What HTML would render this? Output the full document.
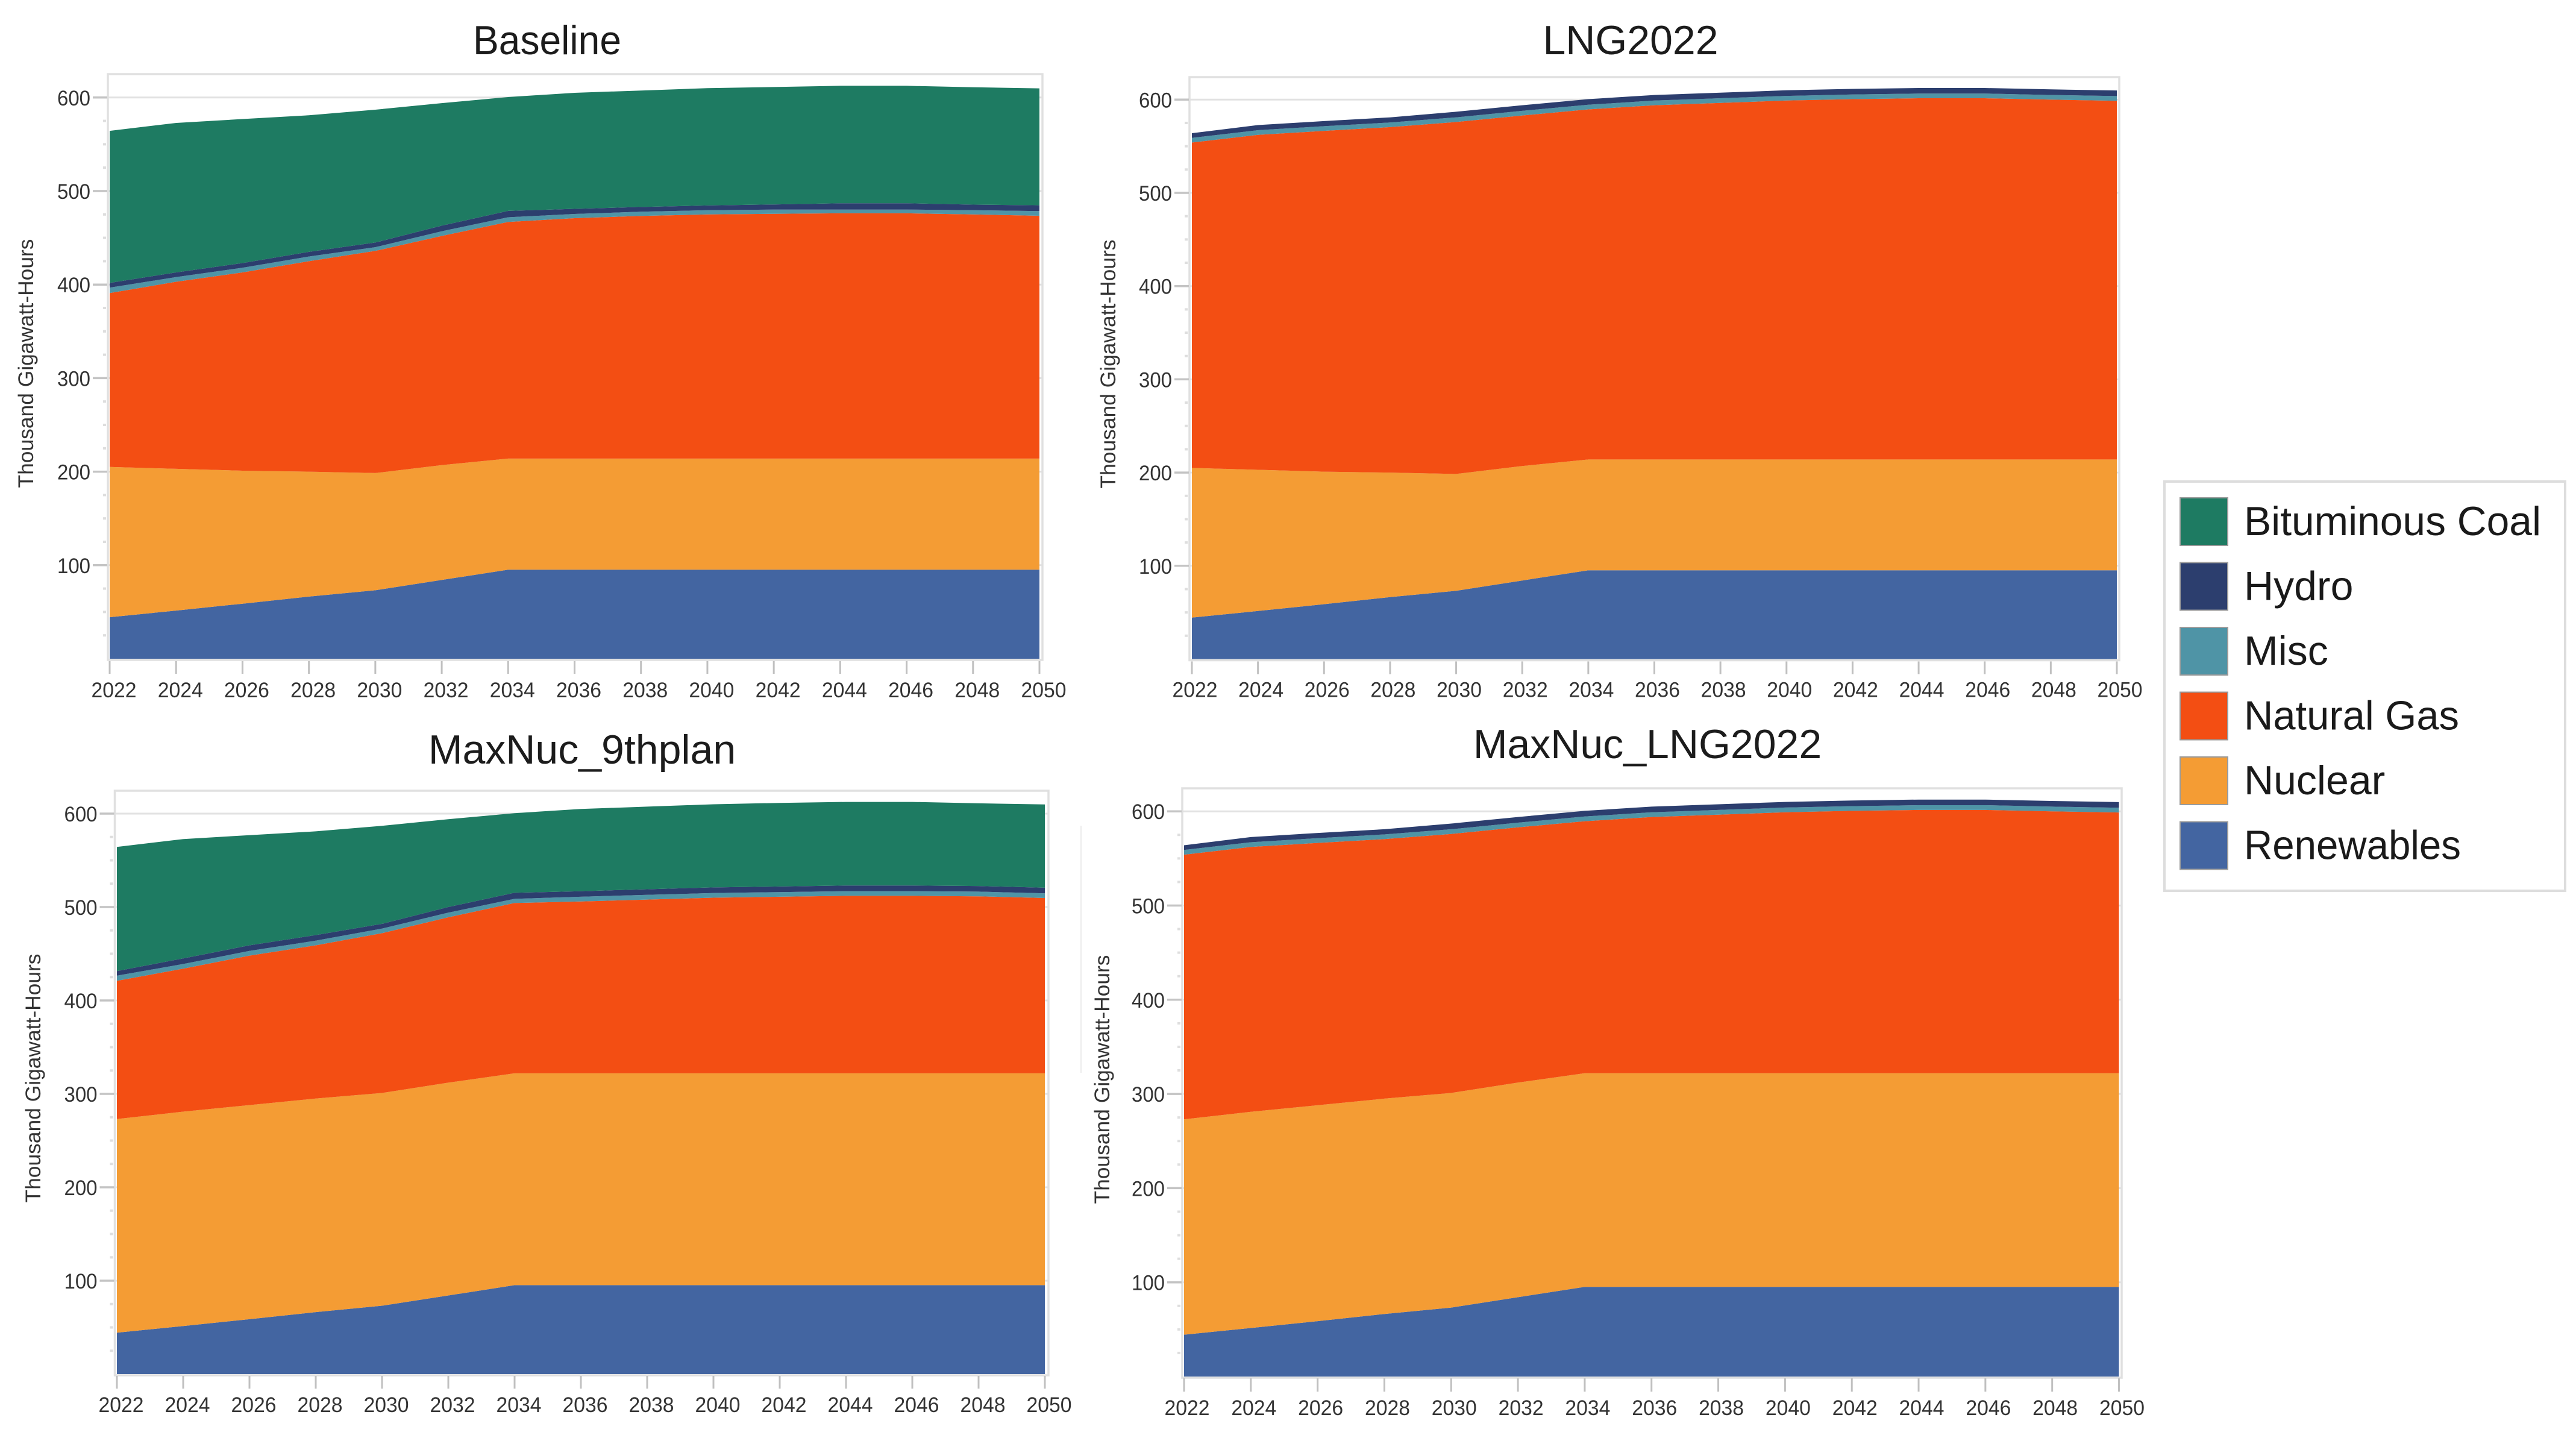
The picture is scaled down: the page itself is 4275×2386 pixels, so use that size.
<!DOCTYPE html>
<html lang="en">
<head>
<meta charset="utf-8">
<title>Generation mix by scenario</title>
<style>
html,body{margin:0;padding:0;background:#fff;width:4275px;height:2386px;overflow:hidden}
svg{display:block;font-family:"Liberation Sans",sans-serif}
.panel-title{font-size:68px;fill:#1c1c1c;text-anchor:middle}
.axis-title{font-size:35px;fill:#333;text-anchor:middle}
.legend-label{font-size:68px;fill:#1a1a1a}
</style>
</head>
<body>
<svg id="chart" xmlns="http://www.w3.org/2000/svg" width="4275" height="2386" viewBox="0 0 4275 2386">
  <rect x="0" y="0" width="4275" height="2386" fill="#ffffff"/>
  <g id="panel-baseline"></g>
  <g id="panel-lng"></g>
  <g id="panel-nuc9"></g>
  <g id="panel-nuclng"></g>

  <text class="panel-title" x="908" y="90" textLength="246" lengthAdjust="spacingAndGlyphs">Baseline</text>
  <text class="panel-title" x="2706" y="90">LNG2022</text>
  <text class="panel-title" x="966" y="1267">MaxNuc_9thplan</text>
  <text class="panel-title" x="2734" y="1258">MaxNuc_LNG2022</text>

  <text class="axis-title" transform="translate(55,603) rotate(-90)" textLength="413" lengthAdjust="spacingAndGlyphs">Thousand Gigawatt-Hours</text>
  <text class="axis-title" transform="translate(1851,604) rotate(-90)" textLength="413" lengthAdjust="spacingAndGlyphs">Thousand Gigawatt-Hours</text>
  <text class="axis-title" transform="translate(67,1789) rotate(-90)" textLength="413" lengthAdjust="spacingAndGlyphs">Thousand Gigawatt-Hours</text>
  <text class="axis-title" transform="translate(1841,1791) rotate(-90)" textLength="413" lengthAdjust="spacingAndGlyphs">Thousand Gigawatt-Hours</text>

  <line x1="1794" y1="1370" x2="1794" y2="1780" stroke="#ececec" stroke-width="2"/>

  <g>
    <rect x="3592" y="799" width="665" height="679" fill="#ffffff" stroke="#dddddd" stroke-width="4"/>
    <g>
      <rect x="3618" y="826" width="79" height="79" fill="#1e7b62" stroke="#9a9a9a" stroke-width="2"/>
      <text class="legend-label" x="3724" y="888" textLength="493" lengthAdjust="spacingAndGlyphs">Bituminous Coal</text>
    </g>
    <g>
      <rect x="3618" y="933.5" width="79" height="79" fill="#2c3e6e" stroke="#9a9a9a" stroke-width="2"/>
      <text class="legend-label" x="3724" y="995.5">Hydro</text>
    </g>
    <g>
      <rect x="3618" y="1041" width="79" height="79" fill="#4f94a6" stroke="#9a9a9a" stroke-width="2"/>
      <text class="legend-label" x="3724" y="1103">Misc</text>
    </g>
    <g>
      <rect x="3618" y="1148.5" width="79" height="79" fill="#f34e13" stroke="#9a9a9a" stroke-width="2"/>
      <text class="legend-label" x="3724" y="1210.5" textLength="357" lengthAdjust="spacingAndGlyphs">Natural Gas</text>
    </g>
    <g>
      <rect x="3618" y="1256" width="79" height="79" fill="#f49c34" stroke="#9a9a9a" stroke-width="2"/>
      <text class="legend-label" x="3724" y="1318">Nuclear</text>
    </g>
    <g>
      <rect x="3618" y="1363.5" width="79" height="79" fill="#4365a1" stroke="#9a9a9a" stroke-width="2"/>
      <text class="legend-label" x="3724" y="1425.5" textLength="360" lengthAdjust="spacingAndGlyphs">Renewables</text>
    </g>
  </g>
</svg>

<script>
// ---- chart data (thousand GWh) ----
const years = [2022,2024,2026,2028,2030,2032,2034,2036,2038,2040,2042,2044,2046,2048,2050];
const yTickValues = [100,200,300,400,500,600];
const yMinorValues = [25,50,75,125,150,175,225,250,275,325,350,375,425,450,475,525,550,575];

const renewables = [44.4,51.5,58.8,66.4,73.2,84.2,95.2,95.2,95.2,95.2,95.2,95.2,95.2,95.2,95.2];

const baselineNuclear = [160.6,151.5,142.2,133.6,125.3,122.8,118.8,118.8,118.8,118.8,118.8,118.8,118.8,118.8,118.8];
const baselineGas = [186,200,212,225,237.5,245,253,257,259.4,261,261.7,262.2,262.2,261,259.6];
const baselineMisc = [5.8,5,5,5,4,5,5,4.5,4.5,4.5,4.5,4,4,4.5,5];
const baselineHydro = [5,5,5,5,5,6,6.8,5.5,5.1,5.1,5.5,6.8,6.8,6,6.2];
const baselineCoal = [162.6,159.8,154,146,142,131,121.7,124,124.5,125.4,125.5,125.5,125.5,125.5,125];

const lngGas = [349,359.2,365.5,370.5,377.5,376,375.5,380,382.5,385,386.5,387.5,387.5,386,384.8];
const lngMisc = [5,5,5,5,5,5,5,5,5,5,5,5,5,5,5];
const lngHydro = [5,5.5,5.5,5.5,6,6,6,6,6,6,6,6,6,6,6];

const maxNucNuclear = [228.6,229.5,229.2,228.6,227.8,227.8,226.8,226.8,226.8,226.8,226.8,226.8,226.8,226.8,226.8];
const nuc9Gas = [148,153,160,164,171,177,182.3,184,186,188,189,190,190,189.5,187.7];
const nuc9Misc = [5.5,5,5,5,5,5,4.5,5,5,5,5,5,5,5,5];
const nuc9Hydro = [5,6,6,6,5,6,6.5,6,6,6,6,6,6,6,6];
const nuc9Coal = [132.9,127.8,118,111,105,94,85.2,88,88.5,89,89.5,89.5,89.5,88.5,89.1];

const nucLngGas = [281,281.2,278.5,275.5,275,271,267.5,272,274.5,277,278.5,279.5,279.5,278,276.8];

const seriesColors = {renewables:'#4365a1',nuclear:'#f49c34','natural-gas':'#f34e13',misc:'#4f94a6',hydro:'#2c3e6e','bituminous-coal':'#1e7b62'};

// ---- panel layout ----
const SVGNS = 'http://www.w3.org/2000/svg';
const panels = [
  {id:'panel-baseline',key:'baseline',frame:{l:179,r:1730,t:123},x0:182,x1:1725,y0:1093,s:1.552,tickTop:4,tickBottom:25,labelBase:64,labelDx:7,
   stack:[['renewables',renewables],['nuclear',baselineNuclear],['natural-gas',baselineGas],['misc',baselineMisc],['hydro',baselineHydro],['bituminous-coal',baselineCoal]]},
  {id:'panel-lng',key:'lng2022',frame:{l:1974,r:3517,t:128},x0:1978,x1:3513,y0:1093.5,s:1.547,tickTop:4,tickBottom:25,labelBase:63,labelDx:5,
   stack:[['renewables',renewables],['nuclear',baselineNuclear],['natural-gas',lngGas],['misc',lngMisc],['hydro',lngHydro]]},
  {id:'panel-nuc9',key:'maxnuc-9thplan',frame:{l:190.5,r:1740,t:1312},x0:194,x1:1734,y0:2280,s:1.55,tickTop:3,tickBottom:24,labelBase:63,labelDx:7,
   stack:[['renewables',renewables],['nuclear',maxNucNuclear],['natural-gas',nuc9Gas],['misc',nuc9Misc],['hydro',nuc9Hydro],['bituminous-coal',nuc9Coal]]},
  {id:'panel-nuclng',key:'maxnuc-lng2022',frame:{l:1962,r:3521,t:1308},x0:1965,x1:3516.5,y0:2284,s:1.563,tickTop:3,tickBottom:25,labelBase:64,labelDx:5,
   stack:[['renewables',renewables],['nuclear',maxNucNuclear],['natural-gas',nucLngGas],['misc',lngMisc],['hydro',lngHydro]]}
];

function make(tag, attrs){
  const el = document.createElementNS(SVGNS, tag);
  for (const k in attrs) el.setAttribute(k, attrs[k]);
  return el;
}

panels.forEach(function(p){
  const root = document.getElementById(p.id);
  const xScale = function(year){ return p.x0 + (year - years[0]) / (years[years.length-1] - years[0]) * (p.x1 - p.x0); };
  const yScale = function(v){ return p.y0 - v * p.s; };
  const f = p.frame;
  const bottom = p.y0 + 2;

  // major gridlines sit behind the areas
  yTickValues.forEach(function(v){
    const grid = make('line',{x1:f.l,x2:f.r,y1:yScale(v),y2:yScale(v),stroke:'#e2e2e2','stroke-width':3});
    
    
    root.appendChild(grid);
  });

  // plot frame
  const frame = make('rect',{x:f.l,y:f.t,width:f.r-f.l,height:bottom-f.t,fill:'none',stroke:'#e0e0e0','stroke-width':3.5});
  
  
  root.appendChild(frame);

  // stacked areas
  const base = years.map(function(){ return 0; });
  p.stack.forEach(function(entry){
    const name = entry[0], vals = entry[1];
    const lower = base.slice();
    vals.forEach(function(v,i){ base[i] += v; });
    const pts = [];
    years.forEach(function(y,i){ pts.push(xScale(y).toFixed(1)+','+yScale(base[i]).toFixed(1)); });
    for (let i = years.length-1; i >= 0; i--) pts.push(xScale(years[i]).toFixed(1)+','+yScale(lower[i]).toFixed(1));
    const area = make('polygon',{points:pts.join(' '),fill:seriesColors[name]});
    
    
    root.appendChild(area);
  });

  // y axis
  yTickValues.forEach(function(v){
    const tick = make('line',{x1:f.l-25,x2:f.l-1,y1:yScale(v),y2:yScale(v),stroke:'#c4c4c4','stroke-width':3.5});
    
    
    root.appendChild(tick);
    const label = make('text',{x:f.l-29,y:yScale(v)+13,'text-anchor':'end','font-size':35,fill:'#333',textLength:55,lengthAdjust:'spacingAndGlyphs'});
    
    
    label.textContent = String(v);
    root.appendChild(label);
  });
  yMinorValues.forEach(function(v){
    const minor = make('rect',{x:f.l-8,y:yScale(v)-2,width:5,height:4,fill:'#dedede'});
    
    
    root.appendChild(minor);
  });

  // x axis
  years.forEach(function(y){
    const tick = make('line',{x1:xScale(y),x2:xScale(y),y1:p.y0+p.tickTop,y2:p.y0+p.tickBottom,stroke:'#c0c0c0','stroke-width':3});
    
    
    root.appendChild(tick);
    const label = make('text',{x:xScale(y)+p.labelDx,y:p.y0+p.labelBase,'text-anchor':'middle','font-size':35,fill:'#333',textLength:75,lengthAdjust:'spacingAndGlyphs'});
    
    
    label.textContent = String(y);
    root.appendChild(label);
  });
});
</script>
</body>
</html>
